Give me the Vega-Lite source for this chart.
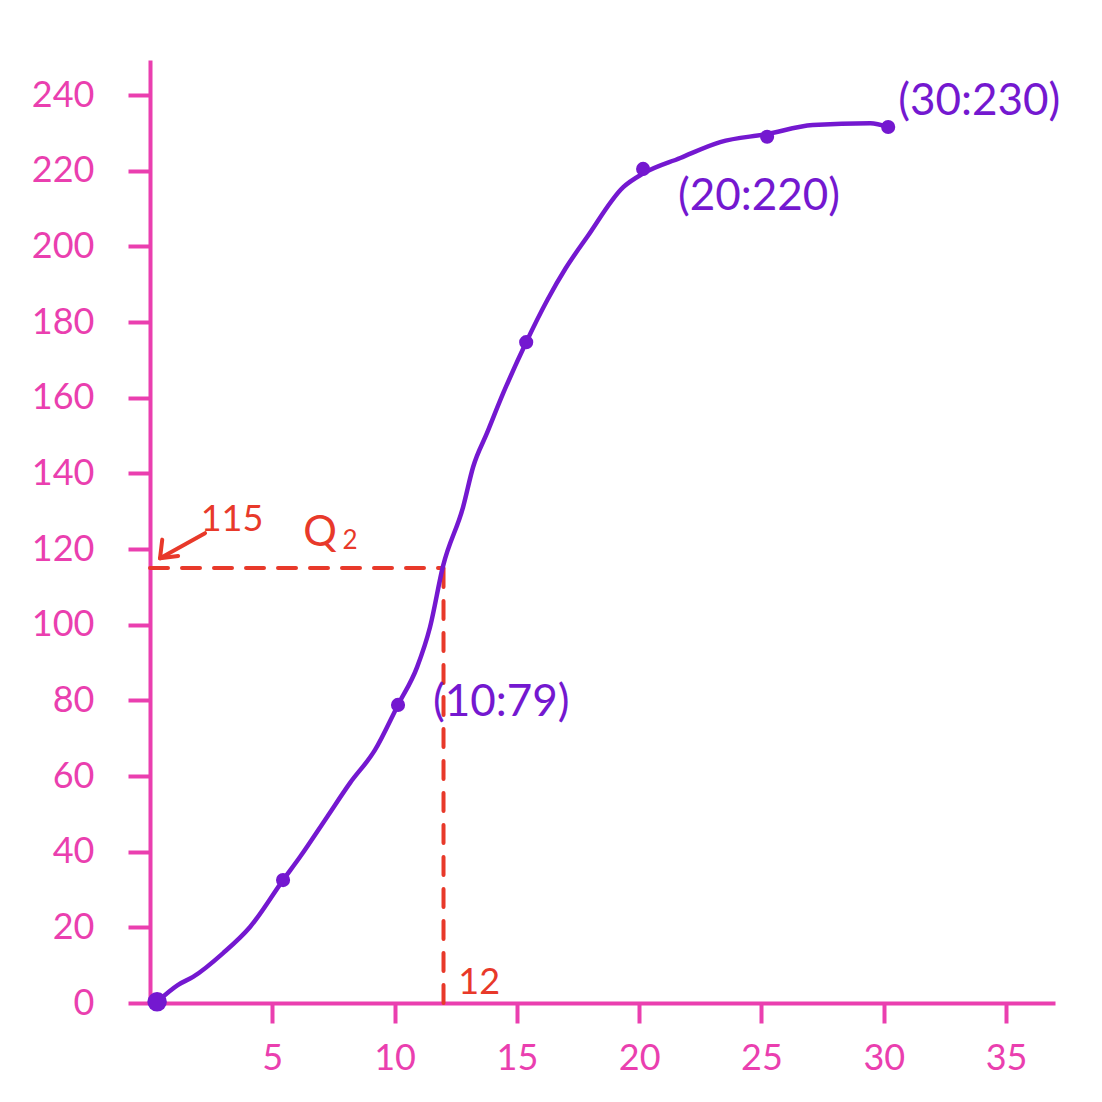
{
  "$schema": "https://vega.github.io/schema/vega-lite/v6.json",
  "width": 905,
  "height": 943,
  "autosize": {"type": "none"},
  "padding": {"left": 150, "top": 60, "right": 47, "bottom": 99},
  "background": "white",
  "config": {"view": {"stroke": null}},
  "datasets": {
    "curve": [
      {"x": 0.29, "y": 0.3}, {"x": 1.15, "y": 4.8}, {"x": 1.76, "y": 6.9}, {"x": 2.99, "y": 13.2},
      {"x": 4.09, "y": 20.1}, {"x": 5.44, "y": 32.5}, {"x": 6.13, "y": 38.6}, {"x": 7.24, "y": 49.2},
      {"x": 8.18, "y": 58.2}, {"x": 9.2, "y": 66.9}, {"x": 10.14, "y": 78.8}, {"x": 10.92, "y": 88.8},
      {"x": 11.45, "y": 99.4}, {"x": 11.98, "y": 115.5}, {"x": 12.8, "y": 131.1}, {"x": 13.21, "y": 141.7},
      {"x": 13.78, "y": 150.7}, {"x": 14.44, "y": 161.2}, {"x": 15.38, "y": 174.7}, {"x": 16.24, "y": 185.8},
      {"x": 17.0, "y": 194.3}, {"x": 17.87, "y": 202.5}, {"x": 19.35, "y": 215.7}, {"x": 20.16, "y": 219.3},
      {"x": 21.68, "y": 223.4}, {"x": 23.31, "y": 227.6}, {"x": 25.2, "y": 229.7}, {"x": 27.1, "y": 232.1},
      {"x": 29.45, "y": 232.6}, {"x": 30.18, "y": 231.6}
    ],
    "origin": [{"x": 0.29, "y": 0.3}],
    "dots": [
      {"x": 5.44, "y": 32.5}, {"x": 10.14, "y": 78.8}, {"x": 15.38, "y": 174.7},
      {"x": 20.16, "y": 220.5}, {"x": 25.23, "y": 229}, {"x": 30.18, "y": 231.6}
    ],
    "dashes": [
      {"x": 0, "x2": 12, "y": 115, "y2": 115},
      {"x": 12, "x2": 12, "y": 0, "y2": 115}
    ],
    "arrow": [
      {"x": 2.25, "x2": 0.41, "y": 124.2, "y2": 117.6},
      {"x": 0.41, "x2": 0.5, "y": 117.6, "y2": 122.5},
      {"x": 0.41, "x2": 1.15, "y": 117.6, "y2": 118.2}
    ],
    "purpleText": [
      {"x": 33.9, "y": 238.2, "t": "(30:230)"},
      {"x": 24.9, "y": 213, "t": "(20:220)"},
      {"x": 14.36, "y": 79.3, "t": "(10:79)"}
    ],
    "redText": [
      {"x": 3.35, "y": 127.7, "t": "115"},
      {"x": 13.46, "y": 5.3, "t": "12"}
    ],
    "qText": [{"x": 6.95, "y": 124.2, "t": "Q"}],
    "subText": [{"x": 8.18, "y": 122.1, "t": "2"}]
  },
  "layer": [
    {
      "data": {"name": "dashes"},
      "mark": {"type": "rule", "color": "#E8392A", "strokeWidth": 4, "strokeDash": [18, 14], "strokeCap": "round"},
      "encoding": {
        "x": {"field": "x", "type": "quantitative", "scale": {"domain": [0, 37], "nice": false, "zero": false},
          "axis": {"values": [5, 10, 15, 20, 25, 30, 35], "title": null, "grid": false,
            "domainColor": "#EA3FAF", "domainWidth": 4, "tickColor": "#EA3FAF", "tickWidth": 4, "tickSize": 20,
            "labelColor": "#EA3FAF", "labelFont": "Lato", "labelFontSize": 36, "labelPadding": 18}},
        "x2": {"field": "x2"},
        "y": {"field": "y", "type": "quantitative", "scale": {"domain": [0, 249.3], "nice": false, "zero": false},
          "axis": {"values": [0, 20, 40, 60, 80, 100, 120, 140, 160, 180, 200, 220, 240], "title": null, "grid": false,
            "domainColor": "#EA3FAF", "domainWidth": 4, "tickColor": "#EA3FAF", "tickWidth": 4, "tickSize": 22,
            "labelColor": "#EA3FAF", "labelFont": "Lato", "labelFontSize": 36, "labelPadding": 34}},
        "y2": {"field": "y2"}
      }
    },
    {
      "data": {"name": "arrow"},
      "mark": {"type": "rule", "color": "#E8392A", "strokeWidth": 4, "strokeCap": "round"},
      "encoding": {
        "x": {"field": "x", "type": "quantitative"},
        "x2": {"field": "x2"},
        "y": {"field": "y", "type": "quantitative"},
        "y2": {"field": "y2"}
      }
    },
    {
      "data": {"name": "curve"},
      "mark": {"type": "line", "color": "#7418D0", "strokeWidth": 4.5, "interpolate": "monotone", "strokeCap": "round"},
      "encoding": {
        "x": {"field": "x", "type": "quantitative"},
        "y": {"field": "y", "type": "quantitative"}
      }
    },
    {
      "data": {"name": "dots"},
      "mark": {"type": "point", "filled": true, "color": "#7418D0", "opacity": 1, "size": 200},
      "encoding": {
        "x": {"field": "x", "type": "quantitative"},
        "y": {"field": "y", "type": "quantitative"}
      }
    },
    {
      "data": {"name": "origin"},
      "mark": {"type": "point", "filled": true, "color": "#7418D0", "opacity": 1, "size": 380},
      "encoding": {
        "x": {"field": "x", "type": "quantitative"},
        "y": {"field": "y", "type": "quantitative"}
      }
    },
    {
      "data": {"name": "purpleText"},
      "mark": {"type": "text", "color": "#7418D0", "font": "Lato", "fontSize": 44, "align": "center", "baseline": "middle"},
      "encoding": {
        "x": {"field": "x", "type": "quantitative"},
        "y": {"field": "y", "type": "quantitative"},
        "text": {"field": "t"}
      }
    },
    {
      "data": {"name": "redText"},
      "mark": {"type": "text", "color": "#E8392A", "font": "Lato", "fontSize": 36, "align": "center", "baseline": "middle"},
      "encoding": {
        "x": {"field": "x", "type": "quantitative"},
        "y": {"field": "y", "type": "quantitative"},
        "text": {"field": "t"}
      }
    },
    {
      "data": {"name": "qText"},
      "mark": {"type": "text", "color": "#E8392A", "font": "Lato", "fontSize": 42, "align": "center", "baseline": "middle"},
      "encoding": {
        "x": {"field": "x", "type": "quantitative"},
        "y": {"field": "y", "type": "quantitative"},
        "text": {"field": "t"}
      }
    },
    {
      "data": {"name": "subText"},
      "mark": {"type": "text", "color": "#E8392A", "font": "Lato", "fontSize": 26, "align": "center", "baseline": "middle"},
      "encoding": {
        "x": {"field": "x", "type": "quantitative"},
        "y": {"field": "y", "type": "quantitative"},
        "text": {"field": "t"}
      }
    }
  ]
}
